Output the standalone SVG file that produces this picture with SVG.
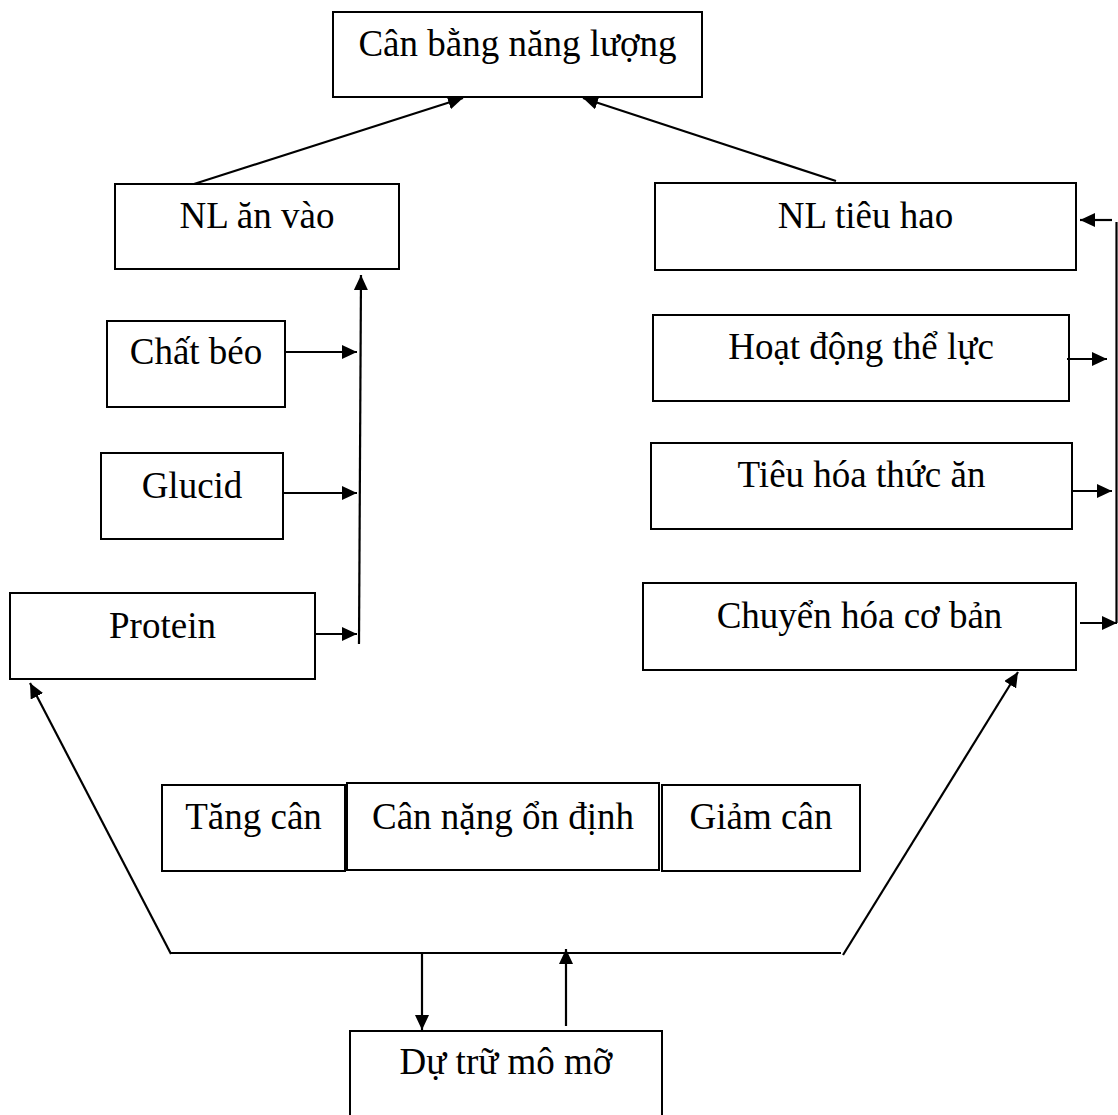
<svg xmlns="http://www.w3.org/2000/svg" width="1118" height="1115" viewBox="0 0 1118 1115">
<defs>
<style>
.box{fill:#fff;stroke:#000;stroke-width:2}
.lbl{font-family:"Liberation Serif","Times New Roman",serif;font-size:37px;fill:#000;text-anchor:middle}
.ln{fill:none;stroke:#000;stroke-width:2.2}
.arr{fill:none;stroke:#000;stroke-width:2.2;marker-end:url(#ah)}
</style>
<marker id="ah" markerUnits="userSpaceOnUse" markerWidth="16" markerHeight="14" refX="15" refY="7" orient="auto">
<path d="M0,0 L15,7 L0,14 Z" fill="#000"/>
</marker>
</defs>
<rect width="1118" height="1115" fill="#fff"/>

<g id="can-bang">
<rect class="box" x="333" y="12" width="369" height="85"/>
<text class="lbl" x="517.5" y="56">Cân bằng năng lượng</text>
</g>
<g id="nl-an-vao">
<rect class="box" x="115" y="184" width="284" height="85"/>
<text class="lbl" x="257" y="228">NL ăn vào</text>
</g>
<g id="nl-tieu-hao">
<rect class="box" x="655" y="183" width="421" height="87"/>
<text class="lbl" x="865.5" y="228">NL tiêu hao</text>
</g>
<g id="chat-beo">
<rect class="box" x="107" y="321" width="178" height="86"/>
<text class="lbl" x="196" y="364">Chất béo</text>
</g>
<g id="glucid">
<rect class="box" x="101" y="453" width="182" height="86"/>
<text class="lbl" x="192" y="498">Glucid</text>
</g>
<g id="protein">
<rect class="box" x="10" y="593" width="305" height="86"/>
<text class="lbl" x="162.5" y="638">Protein</text>
</g>
<g id="hoat-dong">
<rect class="box" x="653" y="315" width="416" height="86"/>
<text class="lbl" x="861" y="359">Hoạt động thể lực</text>
</g>
<g id="tieu-hoa">
<rect class="box" x="651" y="443" width="421" height="86"/>
<text class="lbl" x="861.5" y="487">Tiêu hóa thức ăn</text>
</g>
<g id="chuyen-hoa">
<rect class="box" x="643" y="583" width="433" height="87"/>
<text class="lbl" x="859.5" y="628">Chuyển hóa cơ bản</text>
</g>
<g id="tang-can">
<rect class="box" x="162" y="785" width="183" height="86"/>
<text class="lbl" x="253.5" y="829">Tăng cân</text>
</g>
<g id="on-dinh">
<rect class="box" x="347" y="783" width="312" height="87"/>
<text class="lbl" x="503" y="829">Cân nặng ổn định</text>
</g>
<g id="giam-can">
<rect class="box" x="662" y="785" width="198" height="86"/>
<text class="lbl" x="761" y="829">Giảm cân</text>
</g>
<g id="du-tru">
<rect class="box" x="350" y="1031" width="312" height="100"/>
<text class="lbl" x="506" y="1074">Dự trữ mô mỡ</text>
</g>

<g id="connectors">
<line class="arr" x1="194" y1="184" x2="463" y2="98"/>
<line class="arr" x1="836" y1="181" x2="583" y2="98"/>
<line class="arr" x1="359" y1="644" x2="361" y2="275"/>
<line class="arr" x1="285" y1="352" x2="357" y2="352"/>
<line class="arr" x1="283" y1="493" x2="357" y2="493"/>
<line class="arr" x1="315" y1="634" x2="357" y2="634"/>
<line class="ln" x1="1116.5" y1="222" x2="1116.5" y2="623"/>
<line class="arr" x1="1112" y1="220" x2="1080" y2="220"/>
<line class="arr" x1="1067" y1="359" x2="1107" y2="359"/>
<line class="arr" x1="1072" y1="491" x2="1112" y2="491"/>
<line class="arr" x1="1080" y1="623" x2="1117" y2="623"/>
<line class="arr" x1="171" y1="954" x2="30" y2="683"/>
<line class="ln" x1="171" y1="953" x2="841" y2="953"/>
<line class="arr" x1="843" y1="955" x2="1018" y2="672"/>
<line class="arr" x1="422" y1="953" x2="422" y2="1030"/>
<line class="arr" x1="566" y1="1026" x2="566" y2="949"/>
</g>
</svg>
